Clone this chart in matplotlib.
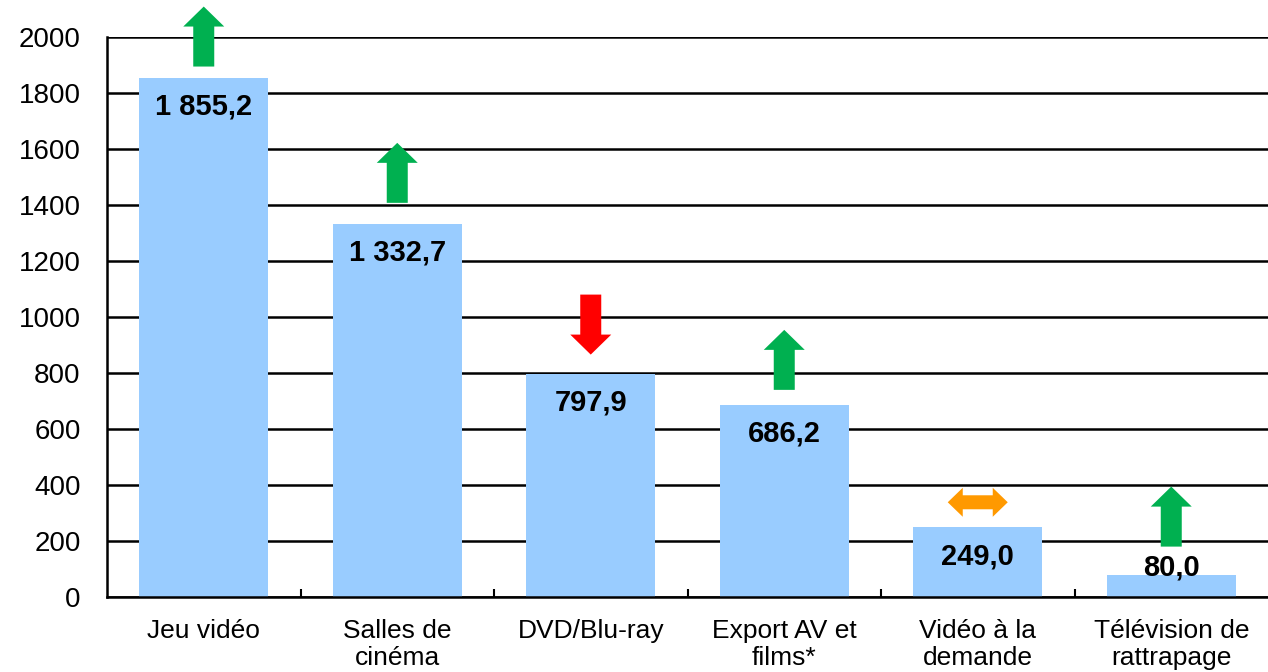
import matplotlib
matplotlib.use("Agg")
import matplotlib.pyplot as plt
import matplotlib.transforms as transforms
from matplotlib.patches import Polygon

plt.rcParams['font.family'] = ['Liberation Sans', 'DejaVu Sans']

categories = ["Jeu vidéo", "Salles de\ncinéma", "DVD/Blu-ray", "Export AV et\nfilms*",
              "Vidéo à la\ndemande", "Télévision de\nrattrapage"]
values = [1855.2, 1332.7, 797.9, 686.2, 249.0, 80.0]
trend = ["up", "up", "down", "up", "flat", "up"]

bar_color = "#99CCFF"
trend_colors = {"up": "#00B050", "down": "#FF0000", "flat": "#FF9900"}
# gap (px) between top of bar and arrow
arrow_gap = [11, 21, 19, 15, 25, 28]

fig = plt.figure(figsize=(12.68, 6.72), dpi=100)
ax = fig.add_axes([107/1268, 75/672, 1161/1268, 560/672])

x = list(range(len(values)))
ax.bar(x, values, width=0.667, color=bar_color, zorder=2)

ax.set_xlim(-0.5, 5.5)
ax.set_ylim(0, 2000)
ax.set_yticks(range(0, 2001, 200))
ax.yaxis.grid(True, color="black", linewidth=1.8, zorder=0)
ax.set_axisbelow(True)
for s in ["top", "right"]:
    ax.spines[s].set_visible(False)
for s in ["left", "bottom"]:
    ax.spines[s].set_linewidth(1.8)
    ax.spines[s].set_zorder(3)

ax.set_xticks(x)
ax.set_xticklabels(categories, fontsize=19, linespacing=1.12)
ax.tick_params(axis="x", length=0, pad=16)
ax.set_xticks([i + 0.5 for i in x[:-1]], minor=True)
ax.tick_params(axis="x", which="minor", direction="in", length=6, width=1.5)
ax.tick_params(axis="y", length=0, pad=19, labelsize=20)

# value labels
px = 560 / 2000.0
for i, v in enumerate(values):
    yc = max(v - 29 / px, 29 / px)
    lab = f"{v:,.1f}".replace(",", " ").replace(".", ",")
    ax.text(i, yc, lab, ha="center", va="center", fontsize=21, fontweight="bold", zorder=4)

# trend arrows, drawn in pixel units above each bar
for i, (v, t) in enumerate(zip(values, trend)):
    g = arrow_gap[i]
    trans = fig.dpi_scale_trans + transforms.ScaledTranslation(i, v, ax.transData)
    if t == "up":
        pts = [(-10.5, g), (10.5, g), (10.5, g + 40), (20.5, g + 40), (0, g + 60),
               (-20.5, g + 40), (-10.5, g + 40)]
    elif t == "down":
        pts = [(-10.5, g + 60), (10.5, g + 60), (10.5, g + 20), (20.5, g + 20), (0, g),
               (-20.5, g + 20), (-10.5, g + 20)]
    else:
        pts = [(-30, g), (-15, g + 14.5), (-15, g + 7), (15, g + 7), (15, g + 14.5), (30, g),
               (15, g - 14.5), (15, g - 7), (-15, g - 7), (-15, g - 14.5)]
    pts = [(a / 100.0, b / 100.0) for a, b in pts]
    ax.add_patch(Polygon(pts, closed=True, transform=trans, facecolor=trend_colors[t],
                         edgecolor="none", clip_on=False, zorder=5))

fig.savefig("out.png", dpi=100)
